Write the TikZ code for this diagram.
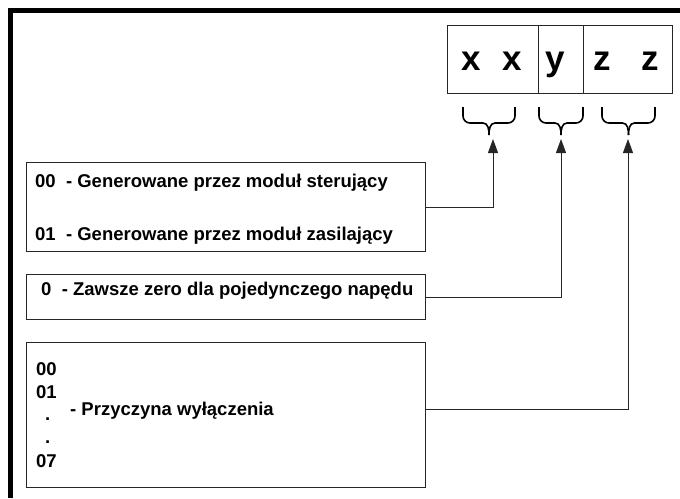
\documentclass[tikz,border=0pt]{standalone}
\usepackage{fontspec}
\setmainfont{Liberation Sans}
\usetikzlibrary{arrows.meta,positioning,calc}
\tikzset{
  cell/.style={rectangle, draw=black!85, line width=1pt, minimum height=68pt,
    inner sep=0pt, anchor=north west},
  descbox/.style={rectangle, draw=black!85, line width=1pt, minimum width=399pt,
    inner sep=0pt, anchor=north west},
  desc/.style={anchor=base west, inner sep=0pt, font=\fontsize{18.5}{22}\selectfont\bfseries},
  bigchar/.style={anchor=base, inner sep=0pt, font=\fontsize{35}{40}\selectfont\bfseries},
  grp/.style={line width=1.6pt},
  link/.style={-{Triangle[length=14pt,width=10pt]}, line width=1pt, black!85}
}
% curly group mark under the code cells: left x, right x
\newcommand\grpbrace[2]{%
  \pgfmathsetmacro\grpmid{(#1+#2)/2}%
  \draw[grp] (#1,107) -- (#1,116) to[out=-90,in=180] ({#1+7},123)
    -- ({\grpmid-6},123) to[out=0,in=90] (\grpmid,135);
  \draw[grp] (#2,107) -- (#2,116) to[out=-90,in=0] ({#2-7},123)
    -- ({\grpmid+6},123) to[out=180,in=90] (\grpmid,135);}
\begin{document}
\begin{tikzpicture}[x=1pt,y=-1pt]
    \useasboundingbox (0,0) rectangle (680,498);
    \draw[line width=5pt] (10,498) -- (10,10.5) -- (680,10.5);
    % code cells
    \node[cell,minimum width=91pt] (cx) at (447,25) {};
    \node[cell,minimum width=45pt] (cy) at (538,25) {};
    \node[cell,minimum width=89pt] (cz) at (583,25) {};
    \node[bigchar] (x1) at (471,70) {x};
    \node[bigchar] (x2) at (512.5,70) {x};
    \node[bigchar] (y1) at (555,70) {y};
    \node[bigchar] (z1) at (602.5,70) {z};
    \node[bigchar] (z2) at (650,70) {z};
    \grpbrace{463}{515}
    \grpbrace{539}{583}
    \grpbrace{602}{655}
    \coordinate (tx) at (493,139);
    \coordinate (ty) at (561,139);
    \coordinate (tz) at (628,139);
    % description boxes
    \node[descbox,minimum height=89pt] (b1) at (26,162) {};
    \node[descbox,minimum height=45pt] (b2) at (26,274) {};
    \node[descbox,minimum height=145pt] (b3) at (26,342) {};
    \node[desc] (t00) at (35,187) {00\ \ - Generowane przez moduł sterujący};
    \node[desc] (t01) at (35,240) {01\ \ - Generowane przez moduł zasilający};
    \node[desc] (t0) at (41,295) {0\ \ - Zawsze zero dla pojedynczego napędu};
    \node[desc] (r00) at (36,375) {00};
    \node[desc] (r01) at (36,398) {01};
    \node[desc] (rd1) at (45,420) {.};
    \node[desc] (rd2) at (45,443) {.};
    \node[desc] (r07) at (36,467) {07};
    \node[desc] (rtxt) at (70,415) {- Przyczyna wyłączenia};
    \draw[link] (b1.east) -| (tx);
    \draw[link] (b2.east) -| (ty);
    \draw[link] ([yshift=5.5pt]b3.east) -| (tz);
  \end{tikzpicture}
\end{document}
